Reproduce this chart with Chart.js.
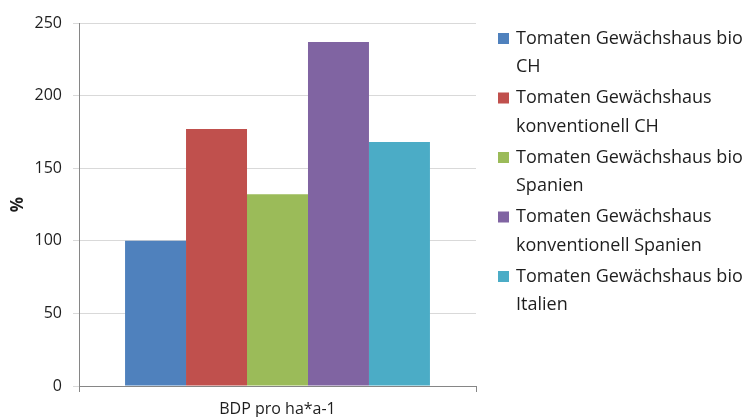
<!DOCTYPE html>
<html>
<head>
<meta charset="utf-8">
<script src="https://cdn.jsdelivr.net/npm/chart.js@4"></script>
<style>
html,body{margin:0;padding:0;background:#fff;}
#wrap{width:746px;height:417px;}
</style>
</head>
<body>
<div id="wrap"><canvas id="c" width="746" height="417"></canvas></div>
<script>
const categories = ['BDP pro ha*a-1'];
const seriesLabels = [
  ['Tomaten Gewächshaus bio', 'CH'],
  ['Tomaten Gewächshaus', 'konventionell CH'],
  ['Tomaten Gewächshaus bio', 'Spanien'],
  ['Tomaten Gewächshaus', 'konventionell Spanien'],
  ['Tomaten Gewächshaus bio', 'Italien']
];
const seriesValues = [100, 177, 132, 237, 168];
const seriesColors = ['#4F81BD', '#C0504D', '#9BBB59', '#8064A2', '#4BACC6'];
const yMin = 0, yMax = 250, yStep = 50;
const yTitle = '%';

const datasets = seriesValues.map((v, i) => ({
  label: seriesLabels[i].join(' '),
  labelLines: seriesLabels[i],
  data: [v],
  backgroundColor: seriesColors[i],
  borderWidth: 0,
  categoryPercentage: 0.768,
  barPercentage: 1
}));

const sideLegend = {
  id: 'sideLegend',
  afterDraw(chart) {
    const ctx = chart.ctx;
    ctx.save();
    ctx.font = '18px "Open Sans"';
    ctx.textBaseline = 'middle';
    ctx.textAlign = 'left';
    chart.data.datasets.forEach((ds, i) => {
      const y0 = 38.5 + i * 59.5;
      ctx.fillStyle = ds.backgroundColor;
      ctx.fillRect(498, y0 - 5.5, 11, 11);
      ctx.fillStyle = '#1e1e1e';
      ds.labelLines.forEach((line, j) => {
        ctx.fillText(line, 516, y0 + j * 28.5);
      });
    });
    ctx.restore();
  }
};

new Chart(document.getElementById('c'), {
  type: 'bar',
  data: { labels: categories, datasets },
  options: {
    responsive: false,
    devicePixelRatio: 1,
    animation: false,
    layout: { padding: { top: 23, right: 270, left: 0, bottom: 0 } },
    plugins: {
      legend: { display: false },
      tooltip: { enabled: false }
    },
    scales: {
      x: {
        offset: true,
        grid: { display: true, drawOnChartArea: false, drawTicks: true, tickLength: 6, color: '#868686', offset: true },
        border: { color: '#868686' },
        ticks: { font: { family: 'Open Sans', size: 16 }, color: '#1e1e1e', padding: 8 },
        afterFit(scale) { scale.height = 31; }
      },
      y: {
        min: yMin, max: yMax,
        ticks: { stepSize: yStep, font: { family: 'Open Sans', size: 16 }, color: '#1e1e1e', padding: 11 },
        grid: { color: '#d9d9d9', tickLength: 6 },
        border: { color: '#868686' },
        title: { display: true, text: yTitle, font: { family: 'Open Sans', size: 17, weight: 'bold' }, color: '#1e1e1e', padding: { top: 8, bottom: 0 } },
        afterFit(scale) { scale.width = 79; }
      }
    }
  },
  plugins: [sideLegend]
});
</script>
</body>
</html>
